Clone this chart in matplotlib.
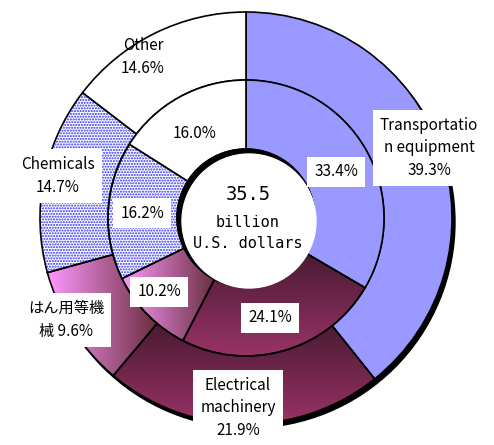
import numpy as np
import matplotlib.pyplot as plt
from matplotlib.patches import Circle, Wedge
from matplotlib.colors import LinearSegmentedColormap

plt.rcParams['font.family'] = ['Noto Sans CJK JP', 'DejaVu Sans']

# data (share of total, %)
categories = ['Transportation equipment', 'Electrical machinery', 'はん用等機械', 'Chemicals', 'Other']
outer_vals = [39.3, 21.9, 9.6, 14.7, 14.6]
inner_vals = [33.4, 24.1, 10.2, 16.2, 16.0]
outer_labels = ['Transportatio\nn equipment\n39.3%', 'Electrical\nmachinery\n21.9%',
                'はん用等機\n械 9.6%', 'Chemicals\n14.7%', 'Other\n14.6%']
total_text = '35.5'

# layout in pixel units (y from top)
cx, cy = 246, 445 - 218
r_out, r_mid, r_in = 206, 138, 69
outer_pos = [(429, 148), (238, 408), (66, 320), (58, 176), (143, 57)]
inner_pos = [(336, 172), (270, 318), (159, 292), (142, 213), (195, 134)]
boxed_outer = [True, True, True, True, False]
boxed_inner = [True, True, True, True, False]

fig = plt.figure(figsize=(4.94, 4.45), dpi=100)
ax = fig.add_axes([0, 0, 1, 1])
ax.axis('off')

# drop shadow of whole ring
ax.add_patch(Circle((cx + 3, cy - 4), r_out, color='black', zorder=0.2))

face = ['#9999ff', 'none', 'none', 'white', 'white']
ow, _ = ax.pie(outer_vals, radius=r_out, center=(cx, cy), startangle=90, counterclock=False,
               colors=face, wedgeprops=dict(width=r_out - r_mid, edgecolor='black', linewidth=1.2))
iw, _ = ax.pie(inner_vals, radius=r_mid, center=(cx, cy), startangle=90, counterclock=False,
               colors=face, wedgeprops=dict(width=r_mid - r_in, edgecolor='black', linewidth=1.2))
ax.set_xlim(0, 494)
ax.set_ylim(0, 445)
ax.set_aspect('equal')

elec = LinearSegmentedColormap.from_list('elec', ['#993366', '#4a1a32'])
gen = LinearSegmentedColormap.from_list('gen', ['#ff99ff', '#6a2e3e'])


def gradient(w, cmap, vertical):
    ext = w.get_path().get_extents()
    g = np.linspace(0, 1, 256)
    img = g.reshape(-1, 1) if vertical else g.reshape(1, -1)
    im = ax.imshow(img, cmap=cmap, origin='lower', aspect='auto',
                   extent=[ext.x0, ext.x1, ext.y0, ext.y1], zorder=0.8)
    im.set_clip_path(w)


for ring in (ow, iw):
    gradient(ring[1], elec, True)
    gradient(ring[2], gen, False)
    chem = ring[3]
    dots = Wedge(chem.center, chem.r, chem.theta1, chem.theta2, width=chem.width,
                 facecolor='white', edgecolor='#2a2aff', hatch='......', linewidth=0, zorder=0.9)
    ax.add_patch(dots)
    chem.set_facecolor('none')

# hole with inner shadow
ax.add_patch(Circle((cx, cy), r_in, color='black', zorder=3))
ax.add_patch(Circle((cx + 3, cy - 3), r_in - 2, color='white', zorder=3.1))

box = dict(boxstyle='square,pad=0.45', facecolor='white', edgecolor='none')
for lab, (x, y), b in zip(outer_labels, outer_pos, boxed_outer):
    ax.text(x, 445 - y, lab, ha='center', va='center', fontsize=11, linespacing=1.45,
            bbox=box if b else None, zorder=5)
for v, (x, y), b in zip(inner_vals, inner_pos, boxed_inner):
    ax.text(x, 445 - y, f'{v:.1f}%', ha='center', va='center', fontsize=11,
            bbox=box if b else None, zorder=5)

ax.text(cx + 2, 445 - 195, total_text, ha='center', va='center', fontsize=13.5,
        family='DejaVu Sans Mono', zorder=5)
ax.text(cx + 2, 445 - 233, 'billion\nU.S. dollars', ha='center', va='center', fontsize=11,
        family='DejaVu Sans Mono', linespacing=1.45, zorder=5)

fig.savefig('out.png', dpi=100)
